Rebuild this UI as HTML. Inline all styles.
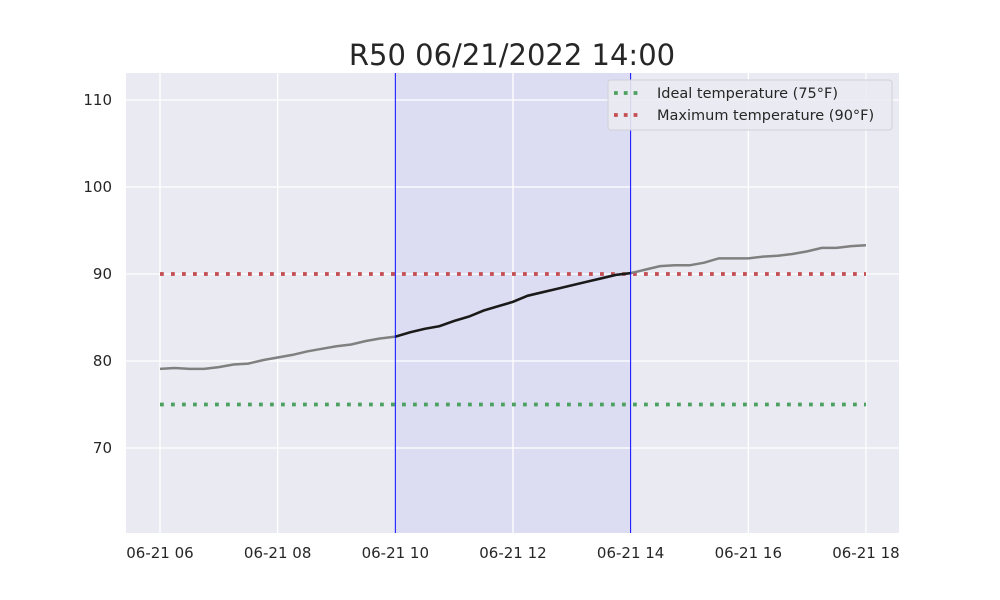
<!DOCTYPE html>
<html><head><meta charset="utf-8"><style>body{margin:0;background:#fff}svg{display:block;font-family:"DejaVu Sans","Liberation Sans",sans-serif}</style></head>
<body>
<svg id="chart" width="1000" height="600"></svg>
<script>
const hours=[];for(let i=0;i<=48;i++)hours.push(6+i*0.25);
const temps=[79.1,79.2,79.1,79.1,79.3,79.6,79.7,80.1,80.4,80.7,81.1,81.4,81.7,81.9,82.3,82.6,82.8,83.3,83.7,84.0,84.6,85.1,85.8,86.3,86.8,87.5,87.9,88.3,88.7,89.1,89.5,89.9,90.1,90.5,90.9,91.0,91.0,91.3,91.8,91.8,91.8,92.0,92.1,92.3,92.6,93.0,93.0,93.2,93.3];
const yTicks=[70,80,90,100,110];
const xTicks=[6,8,10,12,14,16,18];
const idealTemp=75, maxTemp=90, winStart=10, winEnd=14;
const L=126,R=899,T=73,B=533;
const X=h=>160+(h-6)*58.83;
const Y=v=>448-(v-70)*8.7;
const NS="http://www.w3.org/2000/svg",svg=document.getElementById('chart');
function mk(t,a,p){const e=document.createElementNS(NS,t);for(const k in a)e.setAttribute(k,a[k]);(p||svg).appendChild(e);return e;}
let e=mk('rect',{x:L,y:T,width:R-L,height:B-T,fill:'#eaeaf2'});

e=mk('rect',{x:X(winStart),y:T,width:X(winEnd)-X(winStart),height:B-T,fill:'#dcdcf2'});

yTicks.forEach(v=>{e=mk('line',{x1:L,x2:R,y1:Y(v),y2:Y(v),stroke:'#fff','stroke-width':1.3});

e=mk('text',{x:112,y:Y(v)+5,'text-anchor':'end','font-size':15,fill:'#262626'});e.textContent=v;
});
xTicks.forEach(h=>{e=mk('line',{x1:X(h),x2:X(h),y1:T,y2:B,stroke:'#fff','stroke-width':1.3});

e=mk('text',{x:X(h),y:558,'text-anchor':'middle','font-size':15,fill:'#262626'});e.textContent='06-21 '+String(h).padStart(2,'0');
});
[[idealTemp,'#4ca060','ideal-temperature-line'],[maxTemp,'#c44e52','max-temperature-line']].forEach(([v,c,n])=>{
e=mk('line',{x1:X(6),x2:X(18),y1:Y(v),y2:Y(v),stroke:c,'stroke-width':3.8,'stroke-dasharray':'3.8 7.2'});
});
const pts=hours.map((h,i)=>[h,temps[i]]);
e=mk('polyline',{points:pts.map(p=>X(p[0])+','+Y(p[1])).join(' '),fill:'none',stroke:'#808080','stroke-width':2.5});

e=mk('polyline',{points:pts.filter(p=>p[0]>=winStart&&p[0]<=winEnd).map(p=>X(p[0])+','+Y(p[1])).join(' '),fill:'none',stroke:'#1a1a1a','stroke-width':2.5});

[winStart,winEnd].forEach(h=>{e=mk('line',{x1:X(h),x2:X(h),y1:T,y2:B,stroke:'#0000ff','stroke-width':1});
});
e=mk('text',{x:512,y:65,'text-anchor':'middle','font-size':29,fill:'#262626'});e.textContent='R50 06/21/2022 14:00';

const lg=mk('g',{});
mk('rect',{x:608,y:80,width:284,height:50,rx:3,fill:'#eaeaf2',stroke:'#d0d0d8','fill-opacity':0.9},lg);
[['Ideal temperature (75°F)','#4ca060',93],['Maximum temperature (90°F)','#c44e52',115]].forEach(([t,c,y])=>{
e=mk('line',{x1:614,x2:642,y1:y,y2:y,stroke:c,'stroke-width':3.8,'stroke-dasharray':'3.8 6'},lg);

e=mk('text',{x:657,y:y+5,'font-size':14.5,fill:'#262626'},lg);e.textContent=t;
});
</script>
</body></html>
